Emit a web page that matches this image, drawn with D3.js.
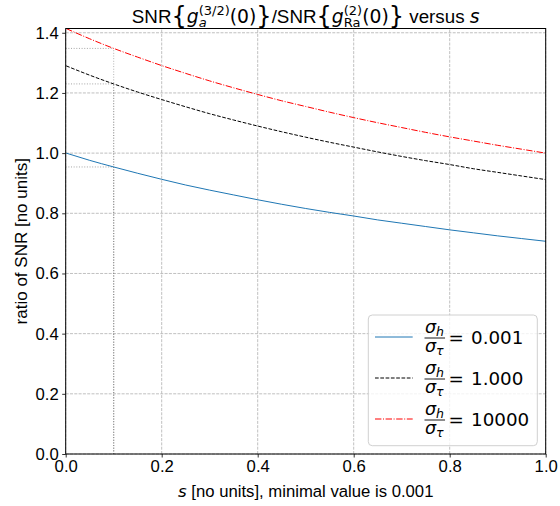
<!DOCTYPE html>
<html><head><meta charset="utf-8">
<script src="https://cdn.jsdelivr.net/npm/d3@7"></script>
<style>body{margin:0;background:#fff}svg{display:block}text{white-space:pre}</style>
</head><body>
<svg id="c" width="560" height="506"></svg>
<script>
const sValues = [0.001,0.05,0.1,0.15,0.2,0.25,0.3,0.35,0.4,0.45,0.5,0.55,0.6,0.65,0.7,0.75,0.8,0.85,0.9,0.95,1.0];
const blueVals = [1.000,0.976,0.954,0.933,0.913,0.894,0.877,0.861,0.845,0.830,0.816,0.803,0.791,0.778,0.767,0.756,0.745,0.735,0.725,0.716,0.707];
const blackVals = [1.290,1.259,1.230,1.203,1.178,1.154,1.131,1.110,1.090,1.071,1.053,1.036,1.020,1.004,0.989,0.975,0.962,0.948,0.936,0.924,0.912];
const redVals = [1.414,1.380,1.348,1.319,1.291,1.265,1.240,1.217,1.195,1.174,1.155,1.136,1.118,1.101,1.085,1.069,1.054,1.040,1.026,1.013,1.000];
const legendValues = ["0.001","1.000","10000"];
const xTicks = [0,0.2,0.4,0.6,0.8,1.0];
const yTicks = [0,0.2,0.4,0.6,0.8,1.0,1.2,1.4];
const markS = 0.1;
const markIdx = 2;

const svg = d3.select("#c");
const L=65.7, R=545.7, T=28.5, B=454;
const x = d3.scaleLinear().domain([0,1]).range([L,R]);
const y = d3.scaleLinear().domain([0,1.4142]).range([B,T]);
const SANS = "'Liberation Sans', Arial, sans-serif";
const DJ = "'DejaVu Sans', sans-serif";

// grid
const grid = svg.append("g");
xTicks.forEach(v=>grid.append("line").attr("x1",x(v)).attr("x2",x(v)).attr("y1",B).attr("y2",T)
  .attr("stroke","#b0b0b0").attr("stroke-width",0.8).attr("stroke-dasharray","3,1.3"));
yTicks.forEach(v=>grid.append("line").attr("x1",L).attr("x2",R).attr("y1",y(v)).attr("y2",y(v))
  .attr("stroke","#b0b0b0").attr("stroke-width",0.8).attr("stroke-dasharray","3,1.3"));

// dotted markers at s=0.1
const series = [
  {vals:blueVals,color:"#1f77b4",dash:null},
  {vals:blackVals,color:"#000",dash:"3.7,1.6"},
  {vals:redVals,color:"#ff0000",dash:"6.4,1.6,1,1.6"}
];
series.forEach(s=>{
  const v = s.vals[markIdx];
  svg.append("line").attr("x1",x(0)).attr("x2",x(markS)).attr("y1",y(v)).attr("y2",y(v))
    .attr("stroke","#808080").attr("stroke-opacity",0.7).attr("stroke-width",1).attr("stroke-dasharray","1,1.65");
  svg.append("line").attr("x1",x(markS)).attr("x2",x(markS)).attr("y1",y(0)).attr("y2",y(v))
    .attr("stroke","#808080").attr("stroke-opacity",0.6).attr("stroke-width",1).attr("stroke-dasharray","1,1.65");
});

// curves
const line = d3.line().x((d,i)=>x(sValues[i])).y(d=>y(d)).curve(d3.curveMonotoneX);
series.forEach(s=>{
  svg.append("path").attr("d",line(s.vals)).attr("fill","none").attr("stroke",s.color)
    .attr("stroke-width",1).attr("stroke-dasharray",s.dash);
});

// axes
const xa = svg.append("g").attr("transform",`translate(0,${B})`)
  .call(d3.axisBottom(x).tickValues(xTicks).tickFormat(d3.format(".1f")).tickSize(3.5).tickPadding(2.5));
const ya = svg.append("g").attr("transform",`translate(${L},0)`)
  .call(d3.axisLeft(y).tickValues(yTicks).tickFormat(d3.format(".1f")).tickSize(3.5).tickPadding(3.5));
[xa,ya].forEach(a=>{
  a.select(".domain").remove();
  a.selectAll("text").attr("font-family",SANS).attr("font-size",16.7).attr("fill","#000");
  a.selectAll("line").attr("stroke","#000").attr("stroke-width",0.8);
});
// spines
svg.append("rect").attr("x",L).attr("y",T).attr("width",R-L).attr("height",B-T)
  .attr("fill","none").attr("stroke","#000").attr("stroke-width",1);

// math layout helper
function layout(g, items, baseSize){
  let cx=0;
  items.forEach(it=>{
    if(it.sup!==undefined || it.sub!==undefined){
      let w=0;
      [it.sup,it.sub].forEach(p=>{
        if(!p) return;
        const t=g.append("text").attr("x",cx).attr("y",p.dy).text(p.t)
          .attr("font-family",p.f||DJ).attr("font-size",p.s).attr("font-style",p.i?"italic":"normal");
        w=Math.max(w,t.node().getComputedTextLength());
      });
      cx+=w;
    } else {
      const t=g.append("text").attr("x",cx+(it.dx||0)).attr("y",it.dy||0).text(it.t)
        .attr("font-family",it.f||DJ).attr("font-size",it.s||baseSize).attr("font-style",it.i?"italic":"normal");
      cx+=t.node().getComputedTextLength()+(it.dx||0);
    }
  });
  return cx;
}

// title
const tg = svg.append("g");
const TS=18.8, BR=24, SS=13;
const tw = layout(tg,[
  {t:"SNR",f:SANS},
  {t:"{",s:BR,dy:1},
  {t:"g",i:true},
  {sup:{t:"(3/2)",s:SS,dy:-8},sub:{t:"a",s:SS,i:true,dy:4}},
  {t:"(0)"},
  {t:"}",s:BR,dy:1},
  {t:"/SNR",f:SANS},
  {t:"{",s:BR,dy:1},
  {t:"g",i:true},
  {sup:{t:"(2)",s:SS,dy:-8},sub:{t:"Ra",s:SS,dy:4}},
  {t:"(0)"},
  {t:"}",s:BR,dy:1},
  {t:" versus ",f:SANS},
  {t:"s",i:true}
],TS);
tg.attr("transform",`translate(${(L+R)/2-tw/2},23.3)`);

// x label
const xg = svg.append("g");
const xw = layout(xg,[{t:"s",i:true,s:16.7},{t:" [no units], minimal value is 0.001",f:SANS,s:16.7}],16.7);
xg.attr("transform",`translate(${(L+R)/2-xw/2},497)`);

// y label
svg.append("text").attr("transform",`translate(27,${(T+B)/2}) rotate(-90)`).attr("text-anchor","middle")
  .attr("font-family",SANS).attr("font-size",17).text("ratio of SNR [no units]");

// legend
const lg = svg.append("g");
lg.append("rect").attr("x",368.3).attr("y",315).attr("width",169).attr("height",130.7).attr("rx",4)
  .attr("fill","#fff").attr("fill-opacity",0.8).attr("stroke","#d0d0d0").attr("stroke-width",1);
const rowsY=[337,378,419];
series.forEach((s,i)=>{
  const ry=rowsY[i];
  lg.append("line").attr("x1",375).attr("x2",412.7).attr("y1",ry).attr("y2",ry)
    .attr("stroke",s.color).attr("stroke-width",1).attr("stroke-dasharray",s.dash);
  const num=lg.append("g").attr("transform",`translate(425,${ry-4})`);
  const nw=layout(num,[{t:"σ",i:true},{t:"h",i:true,s:12.5,dy:3}],17.5);
  const den=lg.append("g").attr("transform",`translate(425,${ry+15})`);
  const dw=layout(den,[{t:"σ",i:true},{t:"τ",i:true,s:12.5,dy:3}],17.5);
  lg.append("line").attr("x1",424.5).attr("x2",425+Math.max(nw,dw)+1).attr("y1",ry+1).attr("y2",ry+1)
    .attr("stroke","#000").attr("stroke-width",0.9);
  lg.append("text").attr("x",448.5).attr("y",ry+7).attr("font-family",DJ).attr("font-size",18.3).text("=");
  lg.append("text").attr("x",471).attr("y",ry+7).attr("font-family",DJ).attr("font-size",18.3).text(legendValues[i]);
});
</script>
</body></html>
